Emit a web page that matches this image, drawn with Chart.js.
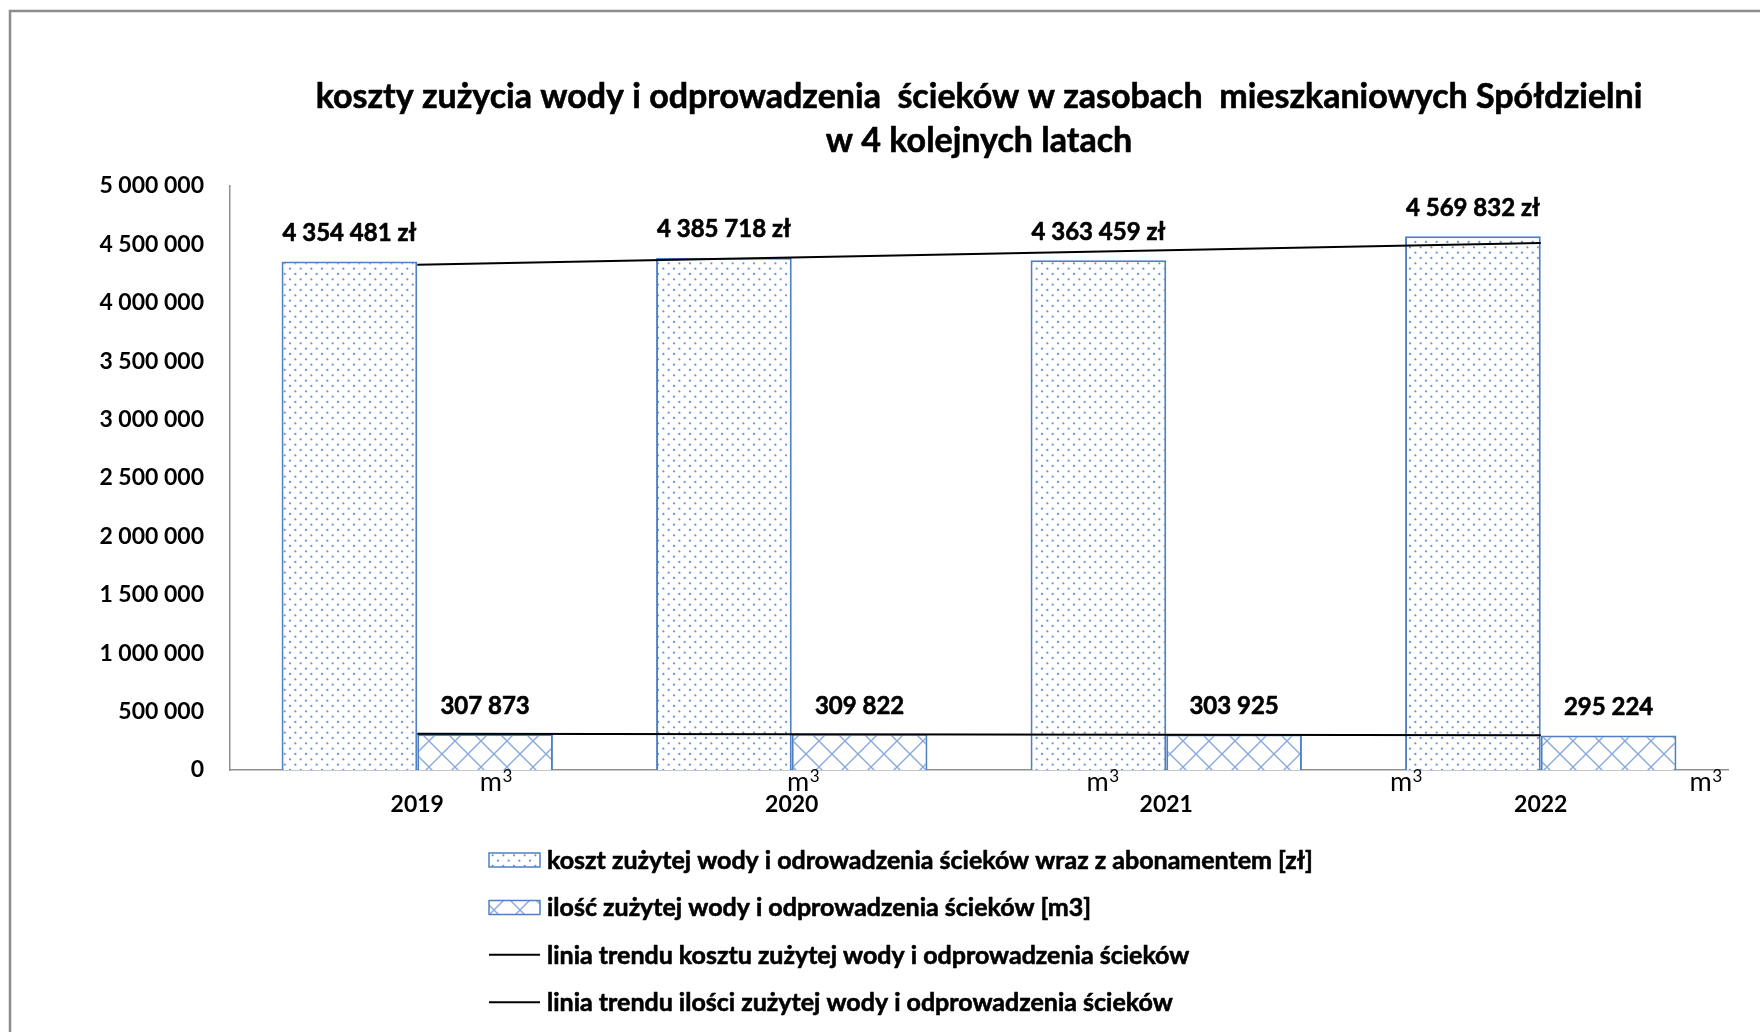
<!DOCTYPE html>
<html>
<head>
<meta charset="utf-8">
<script src="https://cdn.jsdelivr.net/npm/chart.js@4.4.1/dist/chart.umd.min.js"></script>
<style>
  html, body { margin: 0; padding: 0; background: #ffffff; }
  #wrap { width: 1760px; height: 1032px; position: relative; }
</style>
</head>
<body>
<div id="wrap"><canvas id="c" width="1760" height="1032"></canvas></div>
<script>
// ---- data ----
const years = ['2019', '2020', '2021', '2022'];
const costValues = [4354481, 4385718, 4363459, 4569832];      // zł
const volumeValues = [307873, 309822, 303925, 295224];        // m3
const yAxisMax = 5000000;
const yAxisStep = 500000;
const titleLines = [
  'koszty zużycia wody i odprowadzenia  ścieków w zasobach  mieszkaniowych Spółdzielni',
  'w 4 kolejnych latach'
];
const seriesNames = [
  'koszt zużytej wody i odrowadzenia ścieków wraz z abonamentem [zł]',
  'ilość zużytej wody i odprowadzenia ścieków [m3]',
  'linia trendu kosztu zużytej wody i odprowadzenia ścieków',
  'linia trendu ilości zużytej wody i odprowadzenia ścieków'
];

// least-squares linear trend evaluated at each category
function linearTrend(values) {
  const n = values.length;
  const mx = (n - 1) / 2;
  const my = values.reduce((a, b) => a + b, 0) / n;
  let num = 0, den = 0;
  values.forEach((y, i) => { num += (i - mx) * (y - my); den += (i - mx) * (i - mx); });
  const slope = num / den;
  return values.map((_, i) => my + slope * (i - mx));
}

// "4 354 481" style grouping
function groupThousands(v) {
  return Math.round(v).toString().replace(/\B(?=(\d{3})+(?!\d))/g, ' ');
}

// ---- styles ----
const FONT = 'Lato';
const BAR_EDGE = '#4f80c4';
const DOT_COLOR = '#6e98d8';
const HATCH_COLOR = '#86a8de';

function makeDotPattern() {
  const t = document.createElement('canvas');
  t.width = 32; t.height = 32;
  const g = t.getContext('2d');
  g.fillStyle = '#ffffff';
  g.fillRect(0, 0, 32, 32);
  g.fillStyle = DOT_COLOR;
  const step = 32 / 3;
  for (let r = 0; r < 6; r++) {
    const y = r * step / 2 + 2;
    const off = (r % 2) * step / 2;
    for (let c = 0; c < 3; c++) {
      const x = c * step + off + 2;
      g.beginPath();
      g.arc(x, y, 1.15, 0, Math.PI * 2);
      g.fill();
    }
  }
  return g.createPattern(t, 'repeat');
}

function makeHatchPattern() {
  const s = 26;
  const t = document.createElement('canvas');
  t.width = s; t.height = s;
  const g = t.getContext('2d');
  g.fillStyle = '#ffffff';
  g.fillRect(0, 0, s, s);
  g.strokeStyle = HATCH_COLOR;
  g.lineWidth = 1.4;
  g.beginPath();
  g.moveTo(-2, -2); g.lineTo(s + 2, s + 2);
  g.moveTo(s + 2, -2); g.lineTo(-2, s + 2);
  g.stroke();
  return g.createPattern(t, 'repeat');
}

// bold text with a hairline stroke for a heavier face
function heavyText(ctx, txt, x, y) {
  ctx.lineWidth = 0.6;
  ctx.strokeStyle = ctx.fillStyle;
  ctx.lineJoin = 'round';
  ctx.strokeText(txt, x, y);
  ctx.fillText(txt, x, y);
}

// outer frame, title and white background
const framePlugin = {
  id: 'frame',
  beforeDraw(chart) {
    const ctx = chart.ctx;
    ctx.save();
    ctx.fillStyle = '#ffffff';
    ctx.fillRect(0, 0, chart.width, chart.height);
    ctx.strokeStyle = '#8c8c8c';
    ctx.lineWidth = 2.5;
    ctx.beginPath();
    ctx.moveTo(10, chart.height + 2);
    ctx.lineTo(10, 11);
    ctx.lineTo(chart.width + 2, 11);
    ctx.stroke();
    ctx.restore();
  },
  afterDraw(chart) {
    const ctx = chart.ctx;
    const a = chart.chartArea;
    ctx.save();
    ctx.fillStyle = '#000000';
    ctx.font = `bold 34px ${FONT}`;
    ctx.textAlign = 'center';
    ctx.textBaseline = 'middle';
    const cx = (a.left + a.right) / 2;
    heavyText(ctx, titleLines[0], cx, 97);
    heavyText(ctx, titleLines[1], cx, 141);
    ctx.restore();
  }
};

// value labels above the bars
const valueLabelPlugin = {
  id: 'valueLabels',
  afterDatasetsDraw(chart) {
    const ctx = chart.ctx;
    ctx.save();
    ctx.fillStyle = '#000000';
    ctx.font = `bold 24px ${FONT}`;
    ctx.textAlign = 'center';
    ctx.textBaseline = 'middle';
    [0, 1].forEach(di => {
      const meta = chart.getDatasetMeta(di);
      const ds = chart.data.datasets[di];
      meta.data.forEach((el, i) => {
        const txt = groupThousands(ds.data[i]) + (di === 0 ? ' zł' : '');
        heavyText(ctx, txt, el.x, el.y - 28);
      });
    });
    ctx.restore();
  }
};

// unit marks "m³" along the category axis
const unitMarkPlugin = {
  id: 'unitMarks',
  afterDraw(chart, args, opts) {
    const ctx = chart.ctx;
    const xs = chart.scales.x;
    const base = chart.chartArea.bottom;
    ctx.save();
    ctx.fillStyle = '#000000';
    ctx.textBaseline = 'alphabetic';
    ctx.textAlign = 'left';
    opts.at.forEach(p => {
      const cx = xs.getPixelForValue(p);
      ctx.font = `27px ${FONT}`;
      const wm = ctx.measureText('m').width;
      ctx.font = `17px ${FONT}`;
      const w3 = ctx.measureText('3').width;
      const x0 = cx - (wm + w3) / 2;
      ctx.font = `27px ${FONT}`;
      ctx.fillText('m', x0, base + 21);
      ctx.font = `17px ${FONT}`;
      ctx.fillText('3', x0 + wm + 0.5, base + 12);
    });
    ctx.restore();
  }
};

// stacked legend below the plot
const legendPlugin = {
  id: 'stackedLegend',
  afterDraw(chart, args, opts) {
    const ctx = chart.ctx;
    ctx.save();
    ctx.font = `bold 25px ${FONT}`;
    ctx.textBaseline = 'middle';
    ctx.textAlign = 'left';
    chart.data.datasets.forEach((ds, i) => {
      const y = opts.top + i * opts.rowGap;
      const x = opts.left;
      if (ds.type === 'line') {
        ctx.strokeStyle = ds.borderColor;
        ctx.lineWidth = 2;
        ctx.beginPath();
        ctx.moveTo(x, y);
        ctx.lineTo(x + opts.symbolWidth, y);
        ctx.stroke();
      } else {
        ctx.fillStyle = ds.backgroundColor;
        ctx.fillRect(x, y - 7, opts.symbolWidth, 14);
        ctx.strokeStyle = ds.borderColor;
        ctx.lineWidth = 1.5;
        ctx.strokeRect(x, y - 7, opts.symbolWidth, 14);
      }
      ctx.fillStyle = '#000000';
      heavyText(ctx, ds.label, x + opts.symbolWidth + 7, y + 1);
    });
    ctx.restore();
  }
};

function build() {
  const dots = makeDotPattern();
  const hatch = makeHatchPattern();
  const tickFont = { family: FONT, weight: 'bold', size: 23, lineHeight: 1.2 };

  new Chart(document.getElementById('c'), {
    type: 'bar',
    data: {
      labels: years,
      datasets: [
        {
          type: 'bar', label: seriesNames[0], data: costValues,
          backgroundColor: dots, borderColor: BAR_EDGE, borderWidth: 2,
          categoryPercentage: 1 / 1.38, barPercentage: 1.0, order: 2
        },
        {
          type: 'bar', label: seriesNames[1], data: volumeValues,
          backgroundColor: hatch, borderColor: BAR_EDGE, borderWidth: 2,
          categoryPercentage: 1 / 1.38, barPercentage: 1.0, order: 2
        },
        {
          type: 'line', label: seriesNames[2], data: linearTrend(costValues),
          borderColor: '#000000', borderWidth: 2, pointRadius: 0, fill: false, order: 0
        },
        {
          type: 'line', label: seriesNames[3], data: linearTrend(volumeValues),
          borderColor: '#000000', borderWidth: 2, pointRadius: 0, fill: false, order: 0
        }
      ]
    },
    options: {
      responsive: false,
      animation: false,
      devicePixelRatio: 1,
      layout: { padding: { top: 186, left: 10, right: 32, bottom: 202 } },
      plugins: {
        legend: { display: false },
        title: { display: false },
        tooltip: { enabled: false },
        unitMarks: { at: [0.21, 1.03, 1.83, 2.64, 3.44] },
        stackedLegend: { left: 489, top: 860, rowGap: 47.4, symbolWidth: 51 }
      },
      scales: {
        x: {
          grid: { display: false, drawTicks: false },
          border: { display: true, color: '#8f8f8f', width: 1.5 },
          ticks: { font: tickFont, color: '#000000', padding: 21 },
          afterFit(s) { s.height = 60; }
        },
        y: {
          min: 0, max: yAxisMax,
          grid: { display: false, drawTicks: false },
          border: { display: true, color: '#8f8f8f', width: 1.5 },
          ticks: {
            stepSize: yAxisStep, font: tickFont, color: '#000000', padding: 26,
            callback: v => groupThousands(v)
          },
          afterFit(s) { s.width = 220; }
        }
      }
    },
    plugins: [framePlugin, valueLabelPlugin, unitMarkPlugin, legendPlugin]
  });
}

const fontsReady = document.fonts && document.fonts.load
  ? Promise.all([
      document.fonts.load(`bold 22px ${FONT}`),
      document.fonts.load(`22px ${FONT}`)
    ]).catch(() => null)
  : Promise.resolve();
fontsReady.then(build);
</script>
</body>
</html>
